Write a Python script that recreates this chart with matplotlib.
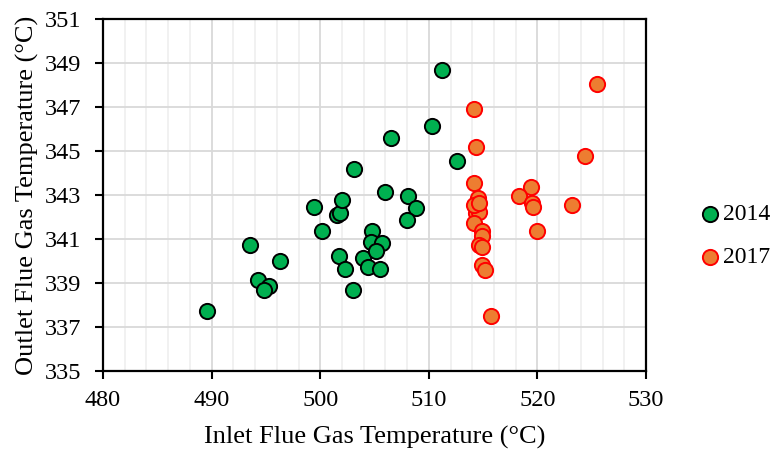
import matplotlib
matplotlib.use("Agg")
import matplotlib.pyplot as plt
from matplotlib.ticker import MultipleLocator, FixedLocator

plt.rcParams['font.family'] = ['Liberation Serif', 'DejaVu Serif']

# 2014 data (inlet, outlet flue gas temperature, degC)
inlet_2014 = [489.6, 493.5, 494.3, 495.3, 494.8, 496.3, 499.4, 500.2, 501.5, 501.8,
              502.0, 501.7, 502.3, 503.0, 503.1, 503.9, 504.4, 504.8, 504.7, 505.7,
              505.1, 505.5, 506.0, 506.5, 508.1, 508.8, 508.0, 510.3, 511.2, 512.6]
outlet_2014 = [337.75, 340.74, 339.16, 338.86, 338.70, 340.01, 342.45, 341.36, 342.10, 342.21,
               342.79, 340.25, 339.66, 338.70, 344.18, 340.14, 339.75, 341.35, 340.89, 340.82,
               340.48, 339.64, 343.16, 345.62, 342.94, 342.41, 341.88, 346.16, 348.70, 344.55]

# 2017 data
inlet_2017 = [525.5, 514.2, 514.3, 524.4, 514.2, 519.4, 518.3, 514.5, 519.5, 523.2,
              519.6, 514.4, 514.3, 514.6, 514.2, 520.0, 514.9, 514.9, 514.6, 514.9,
              514.9, 515.2, 515.7, 514.2, 514.6]
outlet_2017 = [348.06, 346.91, 345.21, 344.79, 343.57, 343.35, 342.98, 342.89, 342.66, 342.56,
               342.45, 342.51, 342.18, 342.23, 341.73, 341.35, 341.39, 341.15, 340.74, 340.64,
               339.83, 339.59, 337.48, 342.56, 342.64]

fig = plt.figure(figsize=(7.73, 4.5), dpi=100)
ax = fig.add_axes([0.1333, 0.1756, 0.7024, 0.7814])

ax.scatter(inlet_2014, outlet_2014, s=120, c='#00B050', edgecolors='black',
           linewidths=1.4, label='2014', zorder=3)
ax.scatter(inlet_2017, outlet_2017, s=120, c='#ED7D31', edgecolors='#FF0000',
           linewidths=1.4, label='2017', zorder=3)

ax.set_xlim(480, 530)
ax.set_ylim(335, 351)
ax.xaxis.set_major_locator(MultipleLocator(10))
ax.xaxis.set_minor_locator(MultipleLocator(2))
ax.yaxis.set_major_locator(FixedLocator(range(335, 352, 2)))

ax.grid(True, which='major', color='#D9D9D9', linewidth=1.3, zorder=0)
ax.grid(True, which='minor', axis='x', color='#F0F0F0', linewidth=1.3, zorder=0)
ax.set_axisbelow(True)

for sp in ax.spines.values():
    sp.set_color('black')
    sp.set_linewidth(1.6)

ax.tick_params(which='major', direction='out', length=6, width=1.5, labelsize=17.5)
ax.tick_params(axis='x', pad=8)
ax.tick_params(axis='y', pad=10)
ax.tick_params(which='minor', length=0)

ax.set_xlabel('Inlet Flue Gas Temperature (°C)', fontsize=19)
ax.set_ylabel('Outlet Flue Gas Temperature (°C)', fontsize=19)
ax.xaxis.set_label_coords(0.5, -0.155)
ax.yaxis.set_label_coords(-0.118, 0.5)

fig.legend(loc='center left', bbox_to_anchor=(0.903, 0.476), frameon=False, fontsize=17,
           handlelength=1.0, handletextpad=0.05, labelspacing=0.9,
           borderpad=0, borderaxespad=0)

fig.savefig('out.png', dpi=100)
